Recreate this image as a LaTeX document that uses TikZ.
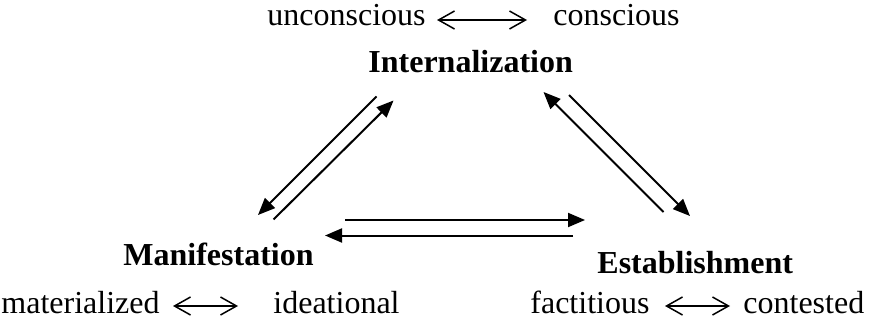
\documentclass[tikz,border=0pt]{standalone}
\usepackage{fontspec}
\setmainfont{Liberation Serif}
\usetikzlibrary{arrows.meta}
\begin{document}
\begin{tikzpicture}[x=0.5pt,y=-0.5pt,
  lbl/.style={inner sep=0pt,anchor=base west,font=\fontsize{16}{19}\selectfont},
  head/.style={lbl,font=\fontsize{16}{19}\selectfont\bfseries},
  bigarrow/.style={line width=1pt,-{Triangle[length=8.5pt,width=7pt]}},
  smallarrow/.style={line width=0.75pt,{Straight Barb[length=8pt,width=9pt]}-{Straight Barb[length=8pt,width=9pt]}}]
\useasboundingbox (0,0) rectangle (871,320);
% texts
\node[lbl] (unc) at (267,26) {unconscious};
\node[lbl] (con) at (553,26) {conscious};
\node[head] (int) at (368,73) {Internalization};
\node[head] (man) at (123,265) {Manifestation};
\node[head] (est) at (597,273) {Establishment};
\node[lbl] (mat) at (1,313) {materialized};
\node[lbl] (ide) at (273,313) {ideational};
\node[lbl] (fac) at (530,313) {factitious};
\node[lbl] (cts) at (743,313) {contested};
% small double arrows
\coordinate (u1) at (437,20); \coordinate (u2) at (527,20);
\coordinate (m1) at (173,306); \coordinate (m2) at (238,306);
\coordinate (f1) at (665,306); \coordinate (f2) at (730,306);
\draw[smallarrow] (u1) -- (u2);
\draw[smallarrow] (m1) -- (m2);
\draw[smallarrow] (f1) -- (f2);
% big arrows
\coordinate (a1) at (376.5,96.5); \coordinate (a2) at (258,215);
\coordinate (b1) at (273.5,219.5); \coordinate (b2) at (393.5,100.5);
\coordinate (c1) at (663.5,212); \coordinate (c2) at (543.5,92);
\coordinate (d1) at (569,95); \coordinate (d2) at (690,216);
\coordinate (e1) at (345,220); \coordinate (e2) at (585,220);
\coordinate (g1) at (573,235.5); \coordinate (g2) at (325,235.5);
\draw[bigarrow] (a1) -- (a2);
\draw[bigarrow] (b1) -- (b2);
\draw[bigarrow] (c1) -- (c2);
\draw[bigarrow] (d1) -- (d2);
\draw[bigarrow] (e1) -- (e2);
\draw[bigarrow] (g1) -- (g2);
\end{tikzpicture}
\end{document}
